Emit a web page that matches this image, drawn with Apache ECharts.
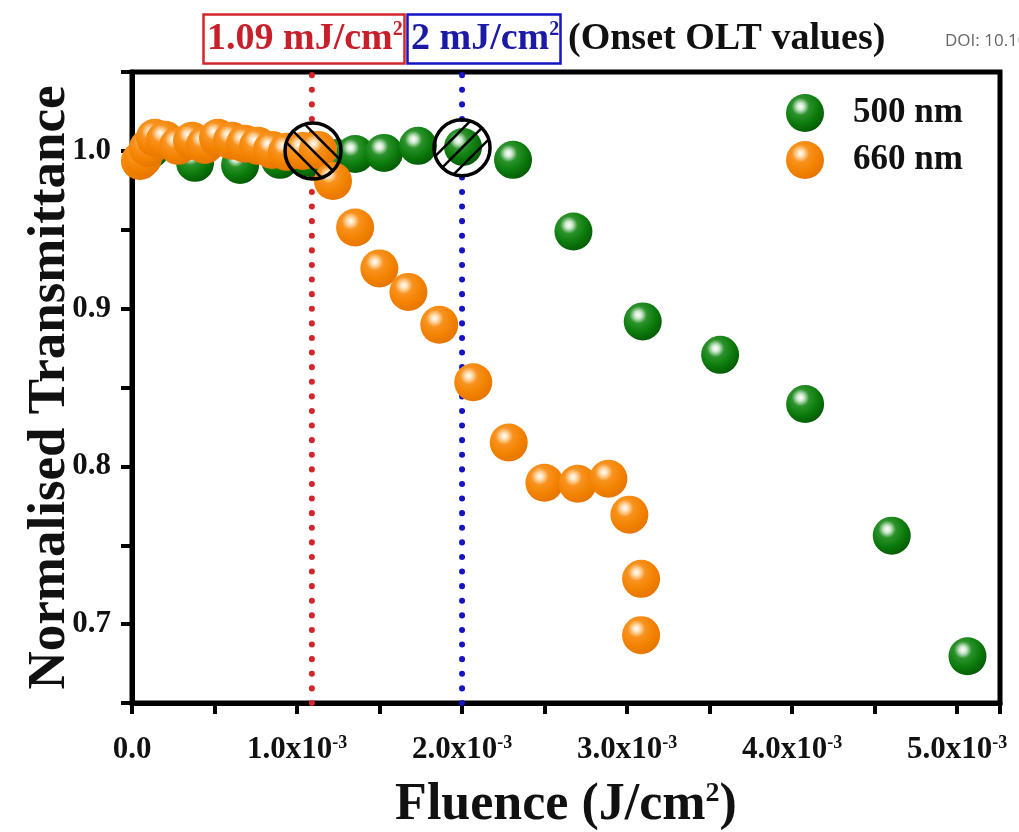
<!DOCTYPE html>
<html lang="en" style="height: 100%">
<head>
    <meta charset="utf-8">
</head>
<body style="height: 100%; margin: 0; background: #fff">
<div id="container" style="width: 1019px; height: 832px"></div>
<script type="text/javascript" src="https://cdn.jsdelivr.net/npm/echarts@6/dist/echarts.min.js"></script>
<script type="text/javascript">

    // fluence values in mJ/cm2 (scaled to J/cm2 below), normalised transmittance
    const fluence500 = [0.109, 0.382, 0.655, 0.897, 1.079, 1.242, 1.352, 1.527, 1.733, 2.006,
        2.309, 2.675, 3.095, 3.564, 4.079, 4.604, 5.063];
    const trans500 = [1.0006, 0.9924, 0.9911, 0.9943, 0.9955, 0.9955, 0.998, 0.9987, 1.0032, 1.0025,
        0.9943, 0.9489, 0.8919, 0.8707, 0.8395, 0.7561, 0.6796];

    const fluence660 = [0.048, 0.067, 0.097, 0.139, 0.2, 0.279, 0.364, 0.442, 0.521, 0.606,
        0.685, 0.764, 0.848, 0.939, 1.036, 1.127, 1.218, 1.352, 1.499, 1.675,
        1.862, 2.068, 2.283, 2.499, 2.701, 2.887, 3.014, 3.085, 3.085];
    const trans660 = [0.9936, 0.9955, 1.0019, 1.0083, 1.007, 1.0032, 1.0064, 1.0038, 1.0083, 1.0064,
        1.0045, 1.0032, 1.0006, 0.9994, 1.0, 1.0006, 0.9809, 0.9514, 0.9255, 0.9106,
        0.8898, 0.8533, 0.8151, 0.7896, 0.789, 0.7922, 0.7694, 0.7287, 0.693];

    // onset OLT markers (mJ/cm2), circled points and hatch direction
    const onsetValues = [1.09, 2.0];
    const onsetColors = ['#d3262c', '#1414c4'];
    const circled = [[1.097, 1.0, 1], [2.0, 1.002, -1]];

    const xTicks = [0, 1, 2, 3, 4, 5];
    const yTicks = [0.7, 0.8, 0.9, 1.0];
    const yMin = 0.65, yMax = 1.05;

    const serif = '"Liberation Serif", "DejaVu Serif", serif';

    function toPairs(xs, ys) {
        return xs.map((x, i) => [x * 1e-3, ys[i]]);
    }

    function ball(light, mid, body, edge) {
        return {
            type: 'radial', x: 0.38, y: 0.33, r: 0.72,
            colorStops: [
                {offset: 0, color: '#ffffff'},
                {offset: 0.13, color: light},
                {offset: 0.32, color: mid},
                {offset: 0.65, color: body},
                {offset: 1, color: edge}
            ]
        };
    }

    const greenBall = ball('#cfe8cf', '#2b922b', '#0b7a0b', '#055805');
    const orangeBall = ball('#ffdcae', '#f8921e', '#f38200', '#e47400');

    var dom = document.getElementById('container');
    var myChart = echarts.init(dom, null, {renderer: 'canvas'});

    const supRich = (color, size, supSize) => ({
        a: {fontFamily: serif, fontWeight: 'bold', fontSize: size, color: color},
        s: {fontFamily: serif, fontWeight: 'bold', fontSize: supSize, color: color, verticalAlign: 'top'}
    });

    const guideSeries = onsetValues.map((v, i) => ({
        name: 'onset ' + v,
        type: 'line',
        z: 1,
        silent: true,
        showSymbol: false,
        symbol: 'none',
        data: [[v * 1e-3, yMin], [v * 1e-3, yMax]],
        lineStyle: {color: onsetColors[i], type: [0.1, 14.5], cap: 'round', width: 6}
    }));

    const option = {
        animation: false,
        backgroundColor: '#fff',
        title: [
            {
                text: '{a|1.09 mJ/cm}{s|2}',
                left: 203, top: 14,
                borderColor: onsetColors[0], borderWidth: 2.5,
                padding: [6, 2, 6, 4],
                textStyle: {rich: supRich('#c8202a', 38, 20)}
            },
            {
                text: '{a|2 mJ/cm}{s|2}',
                left: 407, top: 14,
                borderColor: onsetColors[1], borderWidth: 2.5,
                padding: [6, 2, 6, 4],
                textStyle: {rich: supRich('#1a1aa6', 38, 20)}
            },
            {
                text: '(Onset OLT values)',
                left: 568, top: 20,
                padding: 0,
                textStyle: {fontFamily: serif, fontWeight: 'bold', fontSize: 38, color: '#111'}
            },
            {
                text: 'DOI: 10.1039/',
                left: 945, top: 33,
                padding: 0,
                textStyle: {fontFamily: '"Open Sans", sans-serif', fontWeight: 'normal', fontSize: 17, color: '#666'}
            }
        ],
        legend: {
            orient: 'vertical',
            left: 786, top: 94,
            padding: 0,
            itemGap: 9,
            itemWidth: 38, itemHeight: 38,
            icon: 'circle',
            data: ['500 nm', '660 nm'],
            textStyle: {fontFamily: serif, fontWeight: 'bold', fontSize: 35, color: '#111', padding: [0, 0, 0, 24]}
        },
        grid: {
            left: 132, right: 19, top: 72, bottom: 129,
            outerBoundsMode: 'none',
            containLabel: false,
            show: true, borderColor: '#000', borderWidth: 5, backgroundColor: '#fff'
        },
        xAxis: {
            type: 'value',
            min: 0, max: 5.26e-3, interval: 0.5e-3,
            name: '{a|Fluence (J/cm}{s|2}{a|)}',
            nameLocation: 'middle', nameGap: 77,
            nameMoveOverlap: false,
            nameTextStyle: {rich: supRich('#111', 52, 28)},
            axisLine: {show: true, lineStyle: {color: '#000', width: 5}},
            axisTick: {show: true, inside: false, length: 11, lineStyle: {color: '#000', width: 4}},
            splitLine: {show: false},
            axisLabel: {
                margin: 31,
                formatter: function (v) {
                    const k = v * 1000;
                    const r = Math.round(k);
                    if (Math.abs(k - r) > 1e-6 || !xTicks.includes(r)) return '';
                    if (r === 0) return '{a|0.0}';
                    return '{a|' + r.toFixed(1) + 'x10}{s|-3}';
                },
                rich: supRich('#111', 31, 18)
            }
        },
        yAxis: {
            type: 'value',
            min: yMin, max: yMax, interval: 0.05,
            name: 'Normalised Transmittance',
            nameLocation: 'middle', nameGap: 55, nameRotate: 90,
            nameMoveOverlap: false,
            nameTextStyle: {fontFamily: serif, fontWeight: 'bold', fontSize: 53, color: '#111'},
            axisLine: {show: true, lineStyle: {color: '#000', width: 5}},
            axisTick: {show: true, inside: false, length: 11, lineStyle: {color: '#000', width: 4}},
            splitLine: {show: false},
            axisLabel: {
                margin: 21,
                fontFamily: serif, fontWeight: 'bold', fontSize: 31, color: '#111',
                formatter: function (v) {
                    const r = Math.round(v * 10) / 10;
                    if (Math.abs(v - r) > 1e-6 || !yTicks.includes(r)) return '';
                    return r.toFixed(1);
                }
            }
        },
        series: guideSeries.concat([
            {
                name: '500 nm',
                type: 'scatter',
                z: 2,
                clip: false,
                symbol: 'circle',
                symbolSize: 38,
                itemStyle: {color: greenBall, opacity: 1},
                data: toPairs(fluence500, trans500)
            },
            {
                name: '660 nm',
                type: 'scatter',
                z: 3,
                clip: false,
                symbol: 'circle',
                symbolSize: 38,
                itemStyle: {color: orangeBall, opacity: 1},
                data: toPairs(fluence660, trans660)
            },
            {
                name: 'circled',
                type: 'custom',
                z: 4,
                clip: false,
                silent: true,
                data: circled.map(c => [c[0] * 1e-3, c[1], c[2]]),
                renderItem: function (params, api) {
                    const c = api.coord([api.value(0), api.value(1)]);
                    const r = 28;
                    const dir = api.value(2);
                    const ux = Math.SQRT1_2, uy = dir * Math.SQRT1_2;
                    const nx = -uy, ny = ux;
                    const children = [];
                    [-13, 0, 13].forEach(d => {
                        const h = Math.sqrt(r * r - d * d) - 1;
                        children.push({
                            type: 'line',
                            shape: {
                                x1: c[0] + d * nx - h * ux, y1: c[1] + d * ny - h * uy,
                                x2: c[0] + d * nx + h * ux, y2: c[1] + d * ny + h * uy
                            },
                            style: {stroke: '#000', lineWidth: 2.5}
                        });
                    });
                    children.push({
                        type: 'circle',
                        shape: {cx: c[0], cy: c[1], r: r},
                        style: {fill: 'none', stroke: '#000', lineWidth: 3.5}
                    });
                    return {type: 'group', children: children};
                }
            }
        ])
    };

    myChart.setOption(option);
    window.addEventListener('resize', myChart.resize);

</script>
</body>
</html>
